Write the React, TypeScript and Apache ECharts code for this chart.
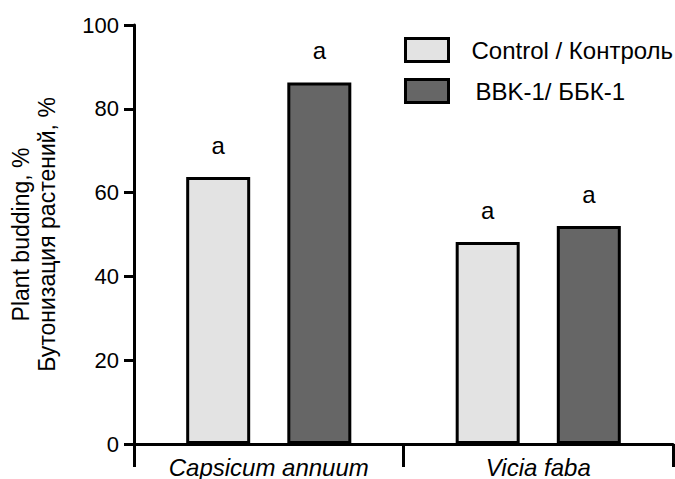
import React, { useEffect, useRef } from "react";
import * as echarts from "echarts";

const categories = ["Capsicum annuum", "Vicia faba"];
const controlName = "Control / Контроль";
const bbkName = "BBK-1/ ББК-1";
const controlValues = [63.7, 48.2];
const bbkValues = [86.3, 52.0];
const letterControl = ["a", "a"];
const letterBbk = ["a", "a"];
const yTicks = [0, 20, 40, 60, 80, 100];

const FONT = "'Liberation Sans', Arial, Helvetica, sans-serif";

export default function App() {
  const ref = useRef<HTMLDivElement>(null);
  useEffect(() => {
    if (!ref.current) return;
    const chart = echarts.init(ref.current, null, { renderer: "svg" });
    const mkSeries = (name: string, values: number[], letters: string[], color: string) => ({
      name,
      type: "bar",
      data: values,
      barWidth: 64,
      barGap: "58%",
      itemStyle: { color, borderColor: "#000", borderWidth: 3 },
      label: {
        show: true,
        position: "top",
        distance: 20,
        formatter: (p: any) => letters[p.dataIndex],
        color: "#000",
        fontSize: 24,
        fontFamily: FONT,
      },
    });
    chart.setOption({
      animation: false,
      backgroundColor: "#fff",
      grid: { left: 133, right: 2, top: 25, bottom: 34, containLabel: false },
      legend: {
        orient: "vertical",
        left: 404,
        top: 37,
        padding: 0,
        itemWidth: 43,
        itemHeight: 23,
        itemGap: 15,
        itemStyle: { borderColor: "#000", borderWidth: 3 },
        textStyle: { color: "#000", fontSize: 24, lineHeight: 23, fontFamily: FONT, padding: [0, 0, 0, 18] },
        data: [
          { name: controlName, icon: "rect" },
          { name: bbkName, icon: "rect", textStyle: { padding: [0, 0, 0, 22] } },
        ],
      },
      xAxis: {
        type: "category",
        data: categories,
        axisLine: { lineStyle: { color: "#000", width: 3 } },
        axisTick: { show: true, length: 23, lineStyle: { color: "#000", width: 3 } },
        axisLabel: { color: "#000", fontSize: 24, fontStyle: "italic", fontFamily: FONT, margin: 11 },
      },
      yAxis: {
        type: "value",
        min: yTicks[0],
        max: yTicks[yTicks.length - 1],
        interval: 20,
        name: "Plant budding, %\nБутонизация растений, %",
        nameLocation: "middle",
        nameGap: 74,
        nameTextStyle: { color: "#000", fontSize: 23, fontFamily: FONT, lineHeight: 26 },
        axisLine: { show: true, lineStyle: { color: "#000", width: 3 } },
        axisTick: { show: true, length: 10, lineStyle: { color: "#000", width: 3 } },
        axisLabel: { color: "#000", fontSize: 22, fontFamily: FONT, margin: 15 },
        splitLine: { show: false },
      },
      series: [
        mkSeries(controlName, controlValues, letterControl, "#e3e3e3"),
        mkSeries(bbkName, bbkValues, letterBbk, "#666666"),
      ],
    });
    return () => chart.dispose();
  }, []);
  return <div ref={ref} style={{ width: 675, height: 479, position: "absolute", left: 0, top: 0 }} />;
}
